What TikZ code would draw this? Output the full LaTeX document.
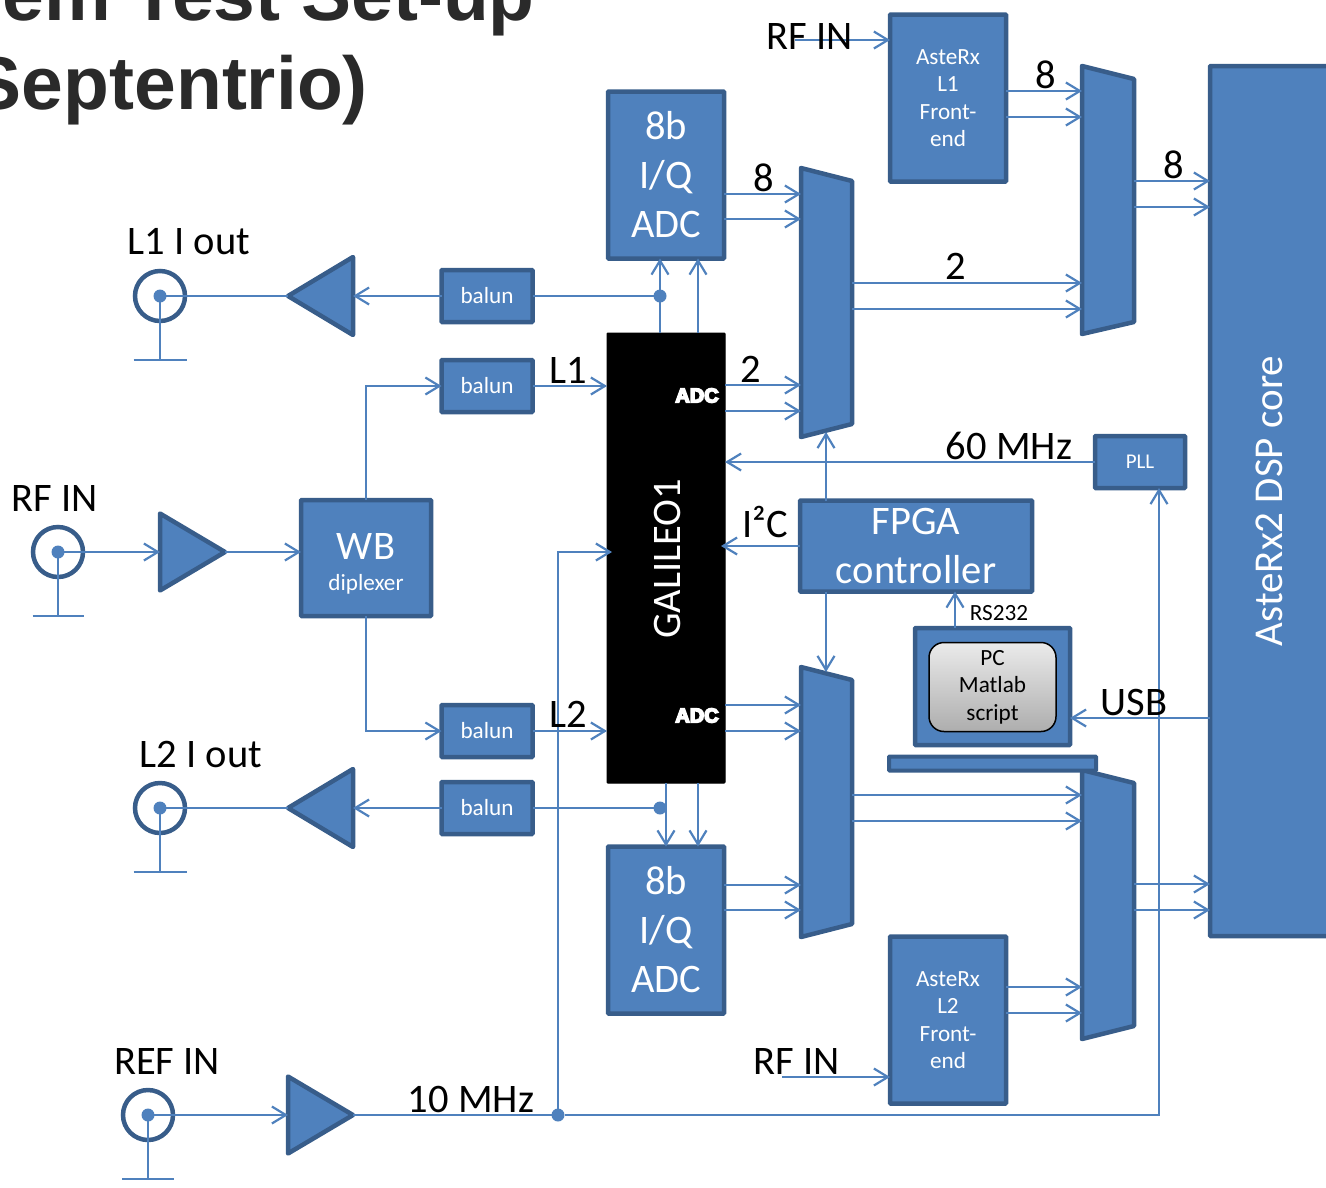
\documentclass[tikz,border=0pt]{standalone}
\usepackage{fontspec}
\setmainfont{Carlito}
\newfontfamily\arialf{Liberation Sans}
\usetikzlibrary{arrows.meta}
\definecolor{bfill}{HTML}{4F81BD}
\definecolor{bline}{HTML}{385D8A}
\definecolor{titlec}{HTML}{2A2A2A}
\newcommand{\adctext}{\special{pdf:code q 2 Tr 1.6 w 1 1 1 RG}ADC\special{pdf:code Q}}
\tikzset{
  x=1pt,y=-1pt,
  bigf/.style={font=\fontsize{40.5}{49}\selectfont},
  smallf/.style={font=\fontsize{23.2}{27.4}\selectfont},
  blk/.style={draw=bline,fill=bfill,line width=4.5pt,rounded corners=0.8pt,inner sep=0,outer sep=0,text=white,align=center},
  ghost/.style={inner sep=0,outer sep=0,draw=none},
  shp/.style={draw=bline,fill=bfill,line width=4.5pt,line join=round},
  lnk/.style={draw=bfill,line width=2.2pt},
  arr/.style={lnk,-{Straight Barb[length=14pt,width=17pt,line width=2.2pt]}},
  ring/.style={circle,draw=bline,line width=4.5pt,minimum size=50pt,inner sep=0,outer sep=0},
  dot/.style={circle,fill=bfill,minimum size=13pt,inner sep=0,outer sep=0},
  lab/.style={text=black,inner sep=0,xshift=1pt,font=\fontsize{40.5}{46}\selectfont},
  adc/.style={text=white,inner sep=0,font=\arialf\bfseries\fontsize{20}{24}\selectfont},
  ttl/.style={anchor=base east,inner sep=0,text=titlec,font=\arialf\bfseries\fontsize{75}{84}\selectfont},
}
\begin{document}
\begin{tikzpicture}
\useasboundingbox (0,0) rectangle (1326,1187);
\clip (0,0) rectangle (1326,1187);
% title
\node[ttl] (t1) at (535,20) {em Test Set-up};
\node[ttl] (t2) at (368,109) {Septentrio)};
% muxes
\node[ghost,minimum width=51pt,minimum height=269pt] (mux1) at (826.5,302.5) {};
\draw[shp] (mux1.north west) -- (mux1.north east |- 0,181) -- (mux1.south east |- 0,424) -- (mux1.south west) -- cycle;
\node[ghost,minimum width=52pt,minimum height=268pt] (mux2) at (1108,200) {};
\draw[shp] (mux2.north west) -- (mux2.north east |- 0,79) -- (mux2.south east |- 0,322) -- (mux2.south west) -- cycle;
\node[ghost,minimum width=51pt,minimum height=270pt] (mux3) at (826.5,802) {};
\draw[shp] (mux3.north west) -- (mux3.north east |- 0,680) -- (mux3.south east |- 0,924) -- (mux3.south west) -- cycle;
\node[ghost,minimum width=52pt,minimum height=269pt] (mux4) at (1108,904.5) {};
\draw[shp] (mux4.north west) -- (mux4.north east |- 0,783) -- (mux4.south east |- 0,1026) -- (mux4.south west) -- cycle;
% blocks
\node[blk,bigf,minimum width=116pt,minimum height=167pt] (adc1) at (666,175) {8b\\I/Q\\ADC};
\node[blk,bigf,minimum width=116pt,minimum height=167pt] (adc2) at (666,930) {8b\\I/Q\\ADC};
\node[draw=black,fill=black,line width=1pt,rounded corners=0.8pt,inner sep=0,outer sep=0,minimum width=118pt,minimum height=450pt] (gal) at (666,558) {};
\node[rotate=90,text=white,inner sep=0,bigf] (galt) at (667,559) {GALILEO1};
\node[adc] (adcA) at (697,395.5) {\adctext};
\node[adc] (adcB) at (697,715.5) {\adctext};
\node[blk,smallf,text width=100pt,minimum width=116pt,minimum height=167pt] (fe1) at (948,98) {AsteRx\\L1\\Front-\\end};
\node[blk,smallf,text width=100pt,minimum width=116pt,minimum height=167pt] (fe2) at (948,1020) {AsteRx\\L2\\Front-\\end};
\node[blk,minimum width=130pt,minimum height=116pt] (wb) at (366,558) {};
\node[text=white,inner sep=0,font=\fontsize{40.5}{46}\selectfont] (wbt) at (366,546) {WB};
\node[text=white,inner sep=0,smallf] (wbs) at (366,584) {diplexer};
\node[blk,bigf,minimum width=232pt,minimum height=91pt] (fpga) at (916,546) {FPGA\\controller};
\node[blk,font=\fontsize{21}{25}\selectfont,minimum width=90pt,minimum height=52pt] (pll) at (1140,462) {PLL};
\node[blk,minimum width=155pt,minimum height=117pt] (pc) at (992.5,686.5) {};
\node[draw=black,line width=1.5pt,rounded corners=15pt,top color=black!8,bottom color=black!32,minimum width=127pt,minimum height=89pt,inner sep=0,outer sep=0,align=center,text=black,smallf] (pcin) at (992.5,687) {PC\\Matlab\\script};
\node[blk,line width=4pt,minimum width=207pt,minimum height=14pt] (base) at (992.5,763.5) {};
\node[blk,minimum width=140pt,minimum height=870pt] (dsp) at (1280,501) {};
\node[rotate=90,text=white,inner sep=0,font=\fontsize{41}{46}\selectfont] (dspt) at (1269,501) {AsteRx2 DSP core};
\foreach \n/\y in {bal1/296,bal2/386,bal3/731,bal4/808}{
  \node[blk,smallf,minimum width=91pt,minimum height=52pt] (\n) at (487,\y) {balun};
}
% amplifiers
\node[ghost,minimum width=65pt,minimum height=78pt] (amp1) at (320.5,296) {};
\draw[shp] (amp1.west) -- (amp1.north east) -- (amp1.south east) -- cycle;
\node[ghost,minimum width=65pt,minimum height=78pt] (amp2) at (320.5,808) {};
\draw[shp] (amp2.west) -- (amp2.north east) -- (amp2.south east) -- cycle;
\node[ghost,minimum width=65pt,minimum height=77pt] (amp3) at (192.5,552) {};
\draw[shp] (amp3.east) -- (amp3.north west) -- (amp3.south west) -- cycle;
\node[ghost,minimum width=65pt,minimum height=77pt] (amp4) at (320.5,1115) {};
\draw[shp] (amp4.east) -- (amp4.north west) -- (amp4.south west) -- cycle;
% connectors (rings)
\foreach \n/\cx/\cy/\gy/\bw in {c1/160/296/360/53,c2/160/808/872/53,c3/58/552/616/51,c4/148/1115/1179/52}{
  \node[ring] (\n) at (\cx,\cy) {};
  \node[dot] (\n-d) at (\cx,\cy) {};
  \coordinate (\n-g) at (\cx,\gy);
  \draw[lnk] (\n-d.center) -- (\n-g);
  \draw[lnk] ([xshift=-\bw*0.5pt]\n-g) -- ([xshift=\bw*0.5pt]\n-g);
}
% junctions
\node[dot] (j1) at (660,296) {};
\node[dot] (j2) at (660,808) {};
\node[dot] (j3) at (558,1115) {};
\coordinate (rf1) at (795,40);
\coordinate (rf2) at (782,1077);
% links
\draw[lnk] (c1-d.center) -- (amp1.west);
\draw[lnk] (c2-d.center) -- (amp2.west);
\draw[arr] (bal1.west) -- (amp1.east);
\draw[arr] (bal4.west) -- (amp2.east |- bal4.west);
\draw[lnk] (bal1.east) -- (j1);
\draw[lnk] (bal4.east) -- (j2);
\draw[arr] (gal.north -| j1) -- (adc1.south -| j1);
\draw[arr] (gal.north -| 698,0) -- (adc1.south -| 698,0);
\draw[arr] (gal.south -| 666,0) -- (adc2.north -| 666,0);
\draw[arr] (gal.south -| 698,0) -- (adc2.north -| 698,0);
\draw[arr] (wb.north) |- (bal2.west);
\draw[arr] (wb.south) |- (bal3.west);
\draw[arr] (bal2.east) -- (gal.west |- bal2.east);
\draw[arr] (bal3.east) -- (gal.west |- bal3.east);
\draw[arr] (c3-d.center) -- (amp3.west);
\draw[arr] (amp3.east) -- (wb.west |- amp3.east);
\foreach \y in {194,219}{\draw[arr] (adc1.east |- 0,\y) -- (mux1.west |- 0,\y);}
\foreach \y in {385,411}{\draw[arr] (gal.east |- 0,\y) -- (mux1.west |- 0,\y);}
\foreach \y in {283,309}{\draw[arr] (mux1.east |- 0,\y) -- (mux2.west |- 0,\y);}
\foreach \y in {91,117}{\draw[arr] (fe1.east |- 0,\y) -- (mux2.west |- 0,\y);}
\foreach \y in {181,207}{\draw[arr] (mux2.east |- 0,\y) -- (dsp.west |- 0,\y);}
\foreach \y in {705,731}{\draw[arr] (gal.east |- 0,\y) -- (mux3.west |- 0,\y);}
\foreach \y in {795,821}{\draw[arr] (mux3.east |- 0,\y) -- (mux4.west |- 0,\y);}
\foreach \y in {885,910}{\draw[arr] (adc2.east |- 0,\y) -- (mux3.west |- 0,\y);}
\foreach \y in {987,1013}{\draw[arr] (fe2.east |- 0,\y) -- (mux4.west |- 0,\y);}
\foreach \y in {884,910}{\draw[arr] (mux4.east |- 0,\y) -- (dsp.west |- 0,\y);}
\draw[arr] (rf1) -- (fe1.west |- rf1);
\draw[arr] (rf2) -- (fe2.west |- rf2);
\draw[arr] (pll.west) -- (gal.east |- pll.west);
\draw[arr] (fpga.north -| 826,0) -- (826,432);
\draw[arr] (fpga.west) -- ([xshift=-4pt]gal.east |- fpga.west);
\draw[arr] (fpga.south -| 826,0) -- (826,672);
\draw[arr] (pc.north -| 955,0) -- (fpga.south -| 955,0);
\draw[arr] (dsp.west |- 0,718) -- (pc.east |- 0,718);
\draw[arr] (c4-d.center) -- (amp4.west);
\draw[lnk] (amp4.east) -- (j3);
\draw[arr] (j3) -- (j3 |- 0,552) -- (612,552);
\draw[arr] (j3) -| (pll.south -| 1159,0);
% labels
\node[lab] (l1) at (188,242) {L1 I out};
\node[lab] (l2) at (200,754) {L2 I out};
\node[lab] (l3) at (54,498) {RF IN};
\node[lab] (l4) at (166,1061) {REF IN};
\node[lab] (l5) at (470,1099) {10 MHz};
\node[lab] (l6) at (809,37) {RF IN};
\node[lab] (l7) at (796,1061) {RF IN};
\node[lab] (l8) at (567,370) {L1};
\node[lab] (l9) at (567,714) {L2};
\node[lab] (l10) at (763,178) {8};
\node[lab] (l11) at (750,369) {2};
\node[lab] (l12) at (955,266) {2};
\node[lab] (l13) at (1045,75) {8};
\node[lab] (l14) at (1173,165) {8};
\node[lab] (l15) at (1008,446) {60 MHz};
\node[lab] (l16) at (764,522) {I²C};
\node[lab] (l17) at (1133,702) {USB};
\node[text=black,inner sep=0,smallf] (l18) at (999,613) {RS232};
\end{tikzpicture}
\end{document}
